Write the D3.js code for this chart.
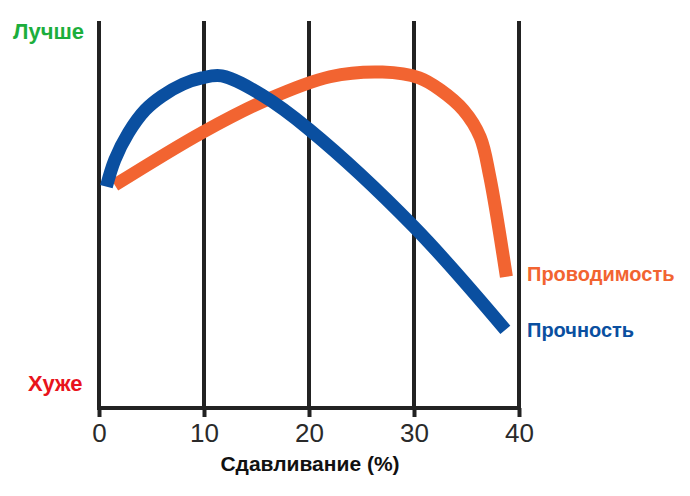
<!DOCTYPE html>
<html lang="ru">
<head>
<meta charset="UTF-8">
<title>Сдавливание</title>
<style>
    body, html { margin: 0; padding: 0; background: #fff; overflow: hidden; }
    svg { display: block; font-family: 'Liberation Sans', Arial, sans-serif; }
</style>
</head>
<body>
<div id="chart"></div>
<script src="https://d3js.org/d3.v7.min.js"></script>
<script>
    // x ticks (compression, %)
    const xTicks = [0, 10, 20, 30, 40];

    // strength curve: compression % / relative quality (0 = worse, 100 = better)
    const strengthX = [0.7, 1.5, 2.8, 4.4, 6.0, 8.0, 9.8, 11.7, 15.5, 20.0, 30.0, 38.7];
    const strengthY = [57.2, 64.1, 71.1, 77.0, 80.6, 83.7, 85.3, 85.8, 80.9, 72.0, 46.8, 20.2];

    // conductivity curve
    const condX = [1.5, 9.9, 16.1, 22.0, 27.0, 30.5, 32.5, 34.7, 36.3, 37.2, 38.8];
    const condY = [57.6, 71.3, 79.8, 85.6, 86.8, 85.3, 82.2, 77.0, 70.0, 60.0, 33.9];

    const width = 690, height = 496;

    const svg = d3.select("#chart").append("svg")
        .attr("width", width)
        .attr("height", height);

    const x = d3.scaleLinear().domain([0, 40]).range([99, 519]);
    const y = d3.scaleLinear().domain([0, 100]).range([408, 21]);

    // vertical grid lines
    svg.append("g")
        .selectAll("line")
        .data(xTicks)
        .enter().append("line")
        .attr("x1", d => x(d)).attr("x2", d => x(d))
        .attr("y1", y(100)).attr("y2", y(0))
        .attr("stroke", "#222")
        .attr("stroke-width", 4);

    // bottom axis
    const axis = svg.append("g")
        .attr("transform", `translate(0,${y(0)})`)
        .call(d3.axisBottom(x).tickValues(xTicks).tickSize(9).tickPadding(7).tickSizeOuter(0));
    axis.select(".domain").attr("stroke", "#222").attr("stroke-width", 4)
        .attr("d", `M${x(0) - 2},0H${x(40) + 2}`);
    axis.selectAll(".tick line").attr("stroke", "#222").attr("stroke-width", 4);
    axis.selectAll(".tick text")
        .attr("fill", "#2a2a2a")
        .style("font-size", "26px")
        .style("font-family", "'Liberation Sans', Arial, sans-serif");

    svg.append("text")
        .attr("x", 310).attr("y", 471)
        .attr("text-anchor", "middle")
        .attr("font-size", 21).attr("font-weight", "bold")
        .attr("fill", "#111")
        .text("Сдавливание (%)");

    const line = d3.line()
        .x(d => x(d[0]))
        .y(d => y(d[1]))
        .curve(d3.curveCatmullRom.alpha(0.5));

    svg.append("path")
        .datum(d3.zip(condX, condY))
        .attr("d", line)
        .attr("fill", "none")
        .attr("stroke", "#f26431")
        .attr("stroke-width", 13);

    svg.append("path")
        .datum(d3.zip(strengthX, strengthY))
        .attr("d", line)
        .attr("fill", "none")
        .attr("stroke", "#0a4fa0")
        .attr("stroke-width", 13);

    // labels
    const labels = [
        {text: "Лучше", x: 13, y: 39, size: 22, color: "#1cae3c"},
        {text: "Хуже", x: 28, y: 391, size: 22, color: "#e8141c"},
        {text: "Проводимость", x: 527, y: 281, size: 20, color: "#f26431"},
        {text: "Прочность", x: 527, y: 337, size: 20, color: "#0a4fa0"}
    ];
    svg.append("g")
        .selectAll("text")
        .data(labels)
        .enter().append("text")
        .attr("x", d => d.x).attr("y", d => d.y)
        .attr("font-size", d => d.size).attr("font-weight", "bold")
        .attr("fill", d => d.color)
        .text(d => d.text);
</script>
</body>
</html>
